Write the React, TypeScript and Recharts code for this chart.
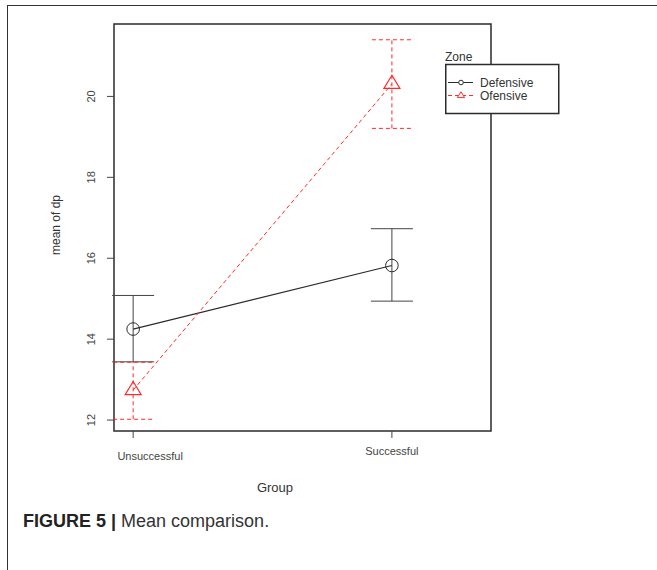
import {
  ComposedChart,
  ErrorBar,
  Legend,
  Line,
  ReferenceArea,
  XAxis,
  YAxis,
} from "recharts";

const groups = ["Unsuccessful", "Successful"];
const defensiveMean = [14.25, 15.82];
const defensiveLow = [13.44, 14.94];
const defensiveHigh = [15.08, 16.73];
const offensiveMean = [12.74, 20.31];
const offensiveLow = [12.02, 19.21];
const offensiveHigh = [13.43, 21.4];
const yTicks = [12, 14, 16, 18, 20];
const xDomain: [number, number] = [0.926, 2.383];
const yDomain: [number, number] = [11.73, 21.79];

const FONT = '"Liberation Sans", Arial, sans-serif';
const RED = "#ff2a2a";
const DARK = "#2b2b2b";

const table = groups.map((g, i) => ({
  pos: i + 1,
  group: g,
  def: defensiveMean[i],
  defErr: [defensiveMean[i] - defensiveLow[i], defensiveHigh[i] - defensiveMean[i]],
  off: offensiveMean[i],
  offErr: [offensiveMean[i] - offensiveLow[i], offensiveHigh[i] - offensiveMean[i]],
}));

function XTick(props: any) {
  const { x, y, payload } = props;
  const label = groups[payload.value - 1] ?? "";
  // the first label sits a bit right of and below its tick in the figure
  const dx = payload.value === 1 ? 17 : 0;
  const dy = payload.value === 1 ? 20 : 15;
  return (
    <text x={x + dx} y={y + dy} textAnchor="middle" fontSize={11} fill="#444" fontFamily={FONT}>
      {label}
    </text>
  );
}

function YTick(props: any) {
  const { x, y, payload } = props;
  const bx = x - 10;
  return (
    <text
      x={bx}
      y={y}
      textAnchor="middle"
      fontSize={11}
      fill="#444"
      fontFamily={FONT}
      transform={`rotate(-90, ${bx}, ${y})`}
    >
      {payload.value}
    </text>
  );
}

function CircleDot(props: any) {
  const { cx, cy, index } = props;
  if (cx == null || cy == null) return <g key={index} />;
  return <circle key={index} cx={cx} cy={cy} r={6.3} fill="none" stroke={DARK} strokeWidth={1} />;
}

function TriangleDot(props: any) {
  const { cx, cy, index } = props;
  if (cx == null || cy == null) return <g key={index} />;
  const d = `M${cx},${cy - 8.6} L${cx + 8},${cy + 4.5} L${cx - 8},${cy + 4.5} Z`;
  return <path key={index} d={d} fill="none" stroke={RED} strokeWidth={1.2} />;
}

function ZoneLegend() {
  return (
    <svg width={116} height={66} style={{ display: "block" }} fontFamily={FONT} fontSize={12}>
      <text x={0} y={11} fill="#333">Zone</text>
      <rect x={0.75} y={14.5} width={113} height={49} fill="#fff" stroke={DARK} strokeWidth={1.5} />
      <line x1={3} y1={32.5} x2={28} y2={32.5} stroke={DARK} strokeWidth={1} />
      <circle cx={16} cy={32.5} r={2.3} fill="#fff" stroke={DARK} strokeWidth={1} />
      <text x={35} y={36.8} fill="#333">Defensive</text>
      <line x1={3} y1={45.5} x2={28} y2={45.5} stroke={RED} strokeWidth={1} strokeDasharray="4 3" />
      <path d="M16,41.8 L19.6,47.6 L12.4,47.6 Z" fill="#fff" stroke={RED} strokeWidth={1} />
      <text x={35} y={49.8} fill="#333">Ofensive</text>
    </svg>
  );
}

export default function App() {
  return (
    <div
      style={{
        position: "absolute",
        left: 0,
        top: 0,
        width: 657,
        height: 570,
        background: "#fff",
        overflow: "hidden",
      }}
    >
      <div
        style={{
          position: "absolute",
          left: 7,
          top: 5,
          width: 660,
          height: 580,
          borderTop: "1.5px solid #333",
          borderLeft: "1.5px solid #333",
        }}
      />
      <ComposedChart
        width={657}
        height={570}
        data={table}
        margin={{ top: 24, right: 166, bottom: 109, left: 74 }}
      >
        <XAxis
          type="number"
          dataKey="pos"
          domain={xDomain}
          ticks={[1, 2]}
          allowDataOverflow
          axisLine={false}
          tickLine={{ stroke: "#444" }}
          tickSize={7}
          height={30}
          tick={<XTick />}
        />
        <YAxis
          type="number"
          domain={yDomain}
          ticks={yTicks}
          allowDataOverflow
          axisLine={false}
          tickLine={{ stroke: "#444" }}
          tickSize={7}
          width={40}
          tick={<YTick />}
        />
        <ReferenceArea
          x1={xDomain[0]}
          x2={xDomain[1]}
          y1={yDomain[0]}
          y2={yDomain[1]}
          fill="none"
          stroke={DARK}
          strokeWidth={1.5}
          fillOpacity={0}
        />
        <Line
          dataKey="def"
          type="linear"
          stroke={DARK}
          strokeWidth={1.2}
          dot={CircleDot}
          activeDot={false}
          isAnimationActive={false}
          legendType="none"
        >
          <ErrorBar dataKey="defErr" direction="y" width={21} stroke="#444" strokeWidth={1} isAnimationActive={false} />
        </Line>
        <Line
          dataKey="off"
          type="linear"
          stroke={RED}
          strokeWidth={1}
          strokeDasharray="4 3"
          dot={TriangleDot}
          activeDot={false}
          isAnimationActive={false}
          legendType="none"
        >
          <ErrorBar
            dataKey="offErr"
            direction="y"
            width={20}
            stroke={RED}
            strokeWidth={1}
            strokeDasharray="4 3"
            isAnimationActive={false}
          />
        </Line>
        <Legend
          layout="vertical"
          align="center"
          verticalAlign="middle"
          content={<ZoneLegend />}
          wrapperStyle={{ left: 445, top: 50, width: 116 }}
        />
      </ComposedChart>
      <div
        style={{
          position: "absolute",
          left: 56,
          top: 225,
          transform: "translate(-50%, -50%) rotate(-90deg)",
          fontFamily: FONT,
          fontSize: 12,
          color: "#333",
          whiteSpace: "nowrap",
        }}
      >
        mean of dp
      </div>
      <div
        style={{
          position: "absolute",
          left: 275,
          top: 487,
          transform: "translate(-50%, -50%)",
          fontFamily: FONT,
          fontSize: 13,
          color: "#333",
        }}
      >
        Group
      </div>
      <div
        style={{
          position: "absolute",
          left: 23,
          top: 511,
          fontFamily: FONT,
          fontSize: 18,
          color: "#333",
          whiteSpace: "nowrap",
        }}
      >
        <b style={{ color: "#222" }}>FIGURE 5 |</b> Mean comparison.
      </div>
    </div>
  );
}
